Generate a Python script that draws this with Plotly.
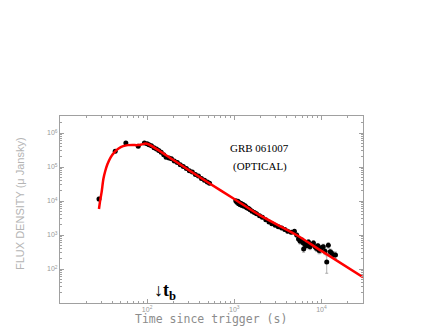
import plotly.graph_objects as go

# model curve
curve_t = [28, 29, 30, 31.5, 33, 35, 38, 42, 47, 53, 60, 68, 77, 86, 95, 105, 130, 200, 500, 1000, 2000, 5000, 10000, 30000]
curve_f = [5.8e3, 1.1e4, 1.8e4, 4.5e4, 7.5e4, 1.2e5, 1.9e5, 2.7e5, 3.5e5, 4.1e5, 4.4e5, 4.45e5, 4.4e5, 4.6e5, 4.9e5, 4.6e5,
           3.3e5, 1.6e5, 3.5e4, 1.15e4, 3.7e3, 1.05e3, 340, 57]

# optical data points
early_t = [28, 43, 57, 79, 93, 100, 105, 112, 120, 128, 136, 145, 155, 165, 178, 190, 205, 222, 240, 260,
           282, 305, 330, 358, 388, 420, 455, 490, 520]
early_f = [1.15e4, 2.9e5, 5.1e5, 4.1e5, 5.1e5, 4.8e5, 4.5e5, 4.2e5, 3.7e5, 3.4e5, 3.05e5, 2.7e5, 2.3e5, 1.95e5,
           1.85e5, 1.75e5, 1.5e5, 1.36e5, 1.17e5, 1.04e5, 9.0e4, 7.8e4, 7.1e4, 6.0e4, 5.4e4, 4.6e4, 4.1e4, 3.6e4, 3.3e4]
early_err = [1.5e3, 2.5e4, 3.0e4, 2.5e4, 3.0e4, 2.5e4, 2.2e4, 2.0e4, 1.8e4, 1.6e4, 1.5e4, 1.3e4, 1.1e4, 1.0e4,
             9e3, 9e3, 8e3, 7e3, 6e3, 5e3, 5e3, 4e3, 4e3, 3e3, 3e3, 2.5e3, 2.2e3, 2e3, 2e3]

mid_t = [1040, 1070, 1100, 1120, 1150, 1170, 1200, 1230, 1260, 1290, 1330, 1370, 1410, 1460, 1520, 1600, 1700,
         1800, 1950, 2100, 2300, 2500, 2700, 2950, 3200, 3500, 3800, 4100, 4500, 4900, 5200]
mid_f = [1.02e4, 9.2e3, 9.8e3, 8.3e3, 8.9e3, 7.8e3, 8.4e3, 7.4e3, 7.9e3, 7.0e3, 7.2e3, 6.6e3, 6.2e3, 6.0e3, 5.5e3,
         5.0e3, 4.6e3, 4.2e3, 3.7e3, 3.3e3, 2.8e3, 2.4e3, 2.15e3, 1.95e3, 1.75e3, 1.6e3, 1.45e3, 1.3e3, 1.2e3, 1.3e3, 1.0e3]
mid_err = [900, 800, 850, 700, 750, 650, 700, 600, 650, 600, 600, 550, 500, 500, 450, 420, 400, 350, 320, 300, 250,
           220, 200, 180, 170, 160, 150, 140, 140, 150, 130]

late_t = [5460, 5700, 6000, 6200, 6250, 6500, 6800, 7100, 7400, 7700, 8100, 8500, 8800, 9100, 9400, 9700, 10000,
          10500, 11000, 11500, 12000, 12600, 13000, 13800, 14500]
late_f = [760, 650, 700, 580, 390, 520, 480, 620, 450, 520, 580, 445, 400, 480, 350, 360, 420, 450, 330, 160, 500,
          320, 300, 260, 260]
late_err = [120, 110, 120, 100, 80, 90, 90, 110, 80, 90, 100, 80, 75, 85, 70, 70, 80, 85, 65, 85, 90, 65, 60, 55, 55]

y_ticks = [1e2, 1e3, 1e4, 1e5, 1e6]
y_labels = ["10<sup>2</sup>", "10<sup>3</sup>", "10<sup>4</sup>", "10<sup>5</sup>", "10<sup>6</sup>"]
x_ticks = [1e2, 1e3, 1e4]
x_labels = ["10<sup>2</sup>", "10<sup>3</sup>", "10<sup>4</sup>"]

obs_t = early_t + mid_t + late_t
obs_f = early_f + mid_f + late_f
obs_err = early_err + mid_err + late_err

fig = go.Figure()
fig.add_trace(go.Scatter(
    x=obs_t, y=obs_f, mode="markers",
    marker=dict(color="black", size=5),
    error_y=dict(type="data", array=obs_err, color="#999999", thickness=0.8, width=1.5),
    showlegend=False, cliponaxis=True
))
fig.add_trace(go.Scatter(
    x=curve_t, y=curve_f, mode="lines",
    line=dict(color="#ff0000", width=2.5, shape="spline", smoothing=0.8),
    showlegend=False
))

axis_common = dict(
    type="log", showgrid=False, zeroline=False,
    showline=True, linecolor="#a0a0a0", linewidth=1, mirror="ticks",
    ticks="inside", ticklen=4, tickcolor="#a0a0a0",
    minor=dict(ticks="inside", ticklen=2, tickcolor="#a0a0a0", dtick="D1"),
    tickfont=dict(family="Liberation Sans", size=7, color="#999999"),
)
fig.update_xaxes(axis_common, range=[1.0, 4.477], tickvals=x_ticks, ticktext=x_labels)
fig.update_yaxes(axis_common, range=[1.0, 6.5], tickvals=y_ticks, ticktext=y_labels)

fig.add_annotation(text="GRB 061007", xref="paper", yref="paper", x=0.66, y=0.872, showarrow=False,
                   font=dict(family="Liberation Serif", size=11, color="black"))
fig.add_annotation(text="(OPTICAL)", xref="paper", yref="paper", x=0.66, y=0.775, showarrow=False,
                   font=dict(family="Liberation Serif", size=11, color="black"))
fig.add_annotation(text="FLUX DENSITY (\u03bc Jansky)", xref="paper", yref="paper", x=-0.158, y=0.53,
                   textangle=-90, showarrow=False,
                   font=dict(family="Liberation Sans Narrow, Liberation Sans", size=11, color="#b4b4b4"))
fig.add_annotation(text="Time since trigger (s)", xref="paper", yref="paper", x=0.498, y=-0.088,
                   yanchor="middle", showarrow=False,
                   font=dict(family="DejaVu Sans Mono", size=11.5, color="#8c8c8c"))
fig.add_annotation(text="<b>\u2193t<sub>b</sub></b>", xref="paper", yref="paper", x=0.345, y=0.062,
                   yanchor="middle", showarrow=False,
                   font=dict(family="Liberation Serif", size=18, color="black"))

# the page body adds an 8px offset, so the figure is sized to fit inside it
fig.update_layout(
    width=428, height=319,
    margin=dict(l=52, r=73, t=108, b=24),
    paper_bgcolor="white", plot_bgcolor="white",
)
fig.write_html("out.html")
